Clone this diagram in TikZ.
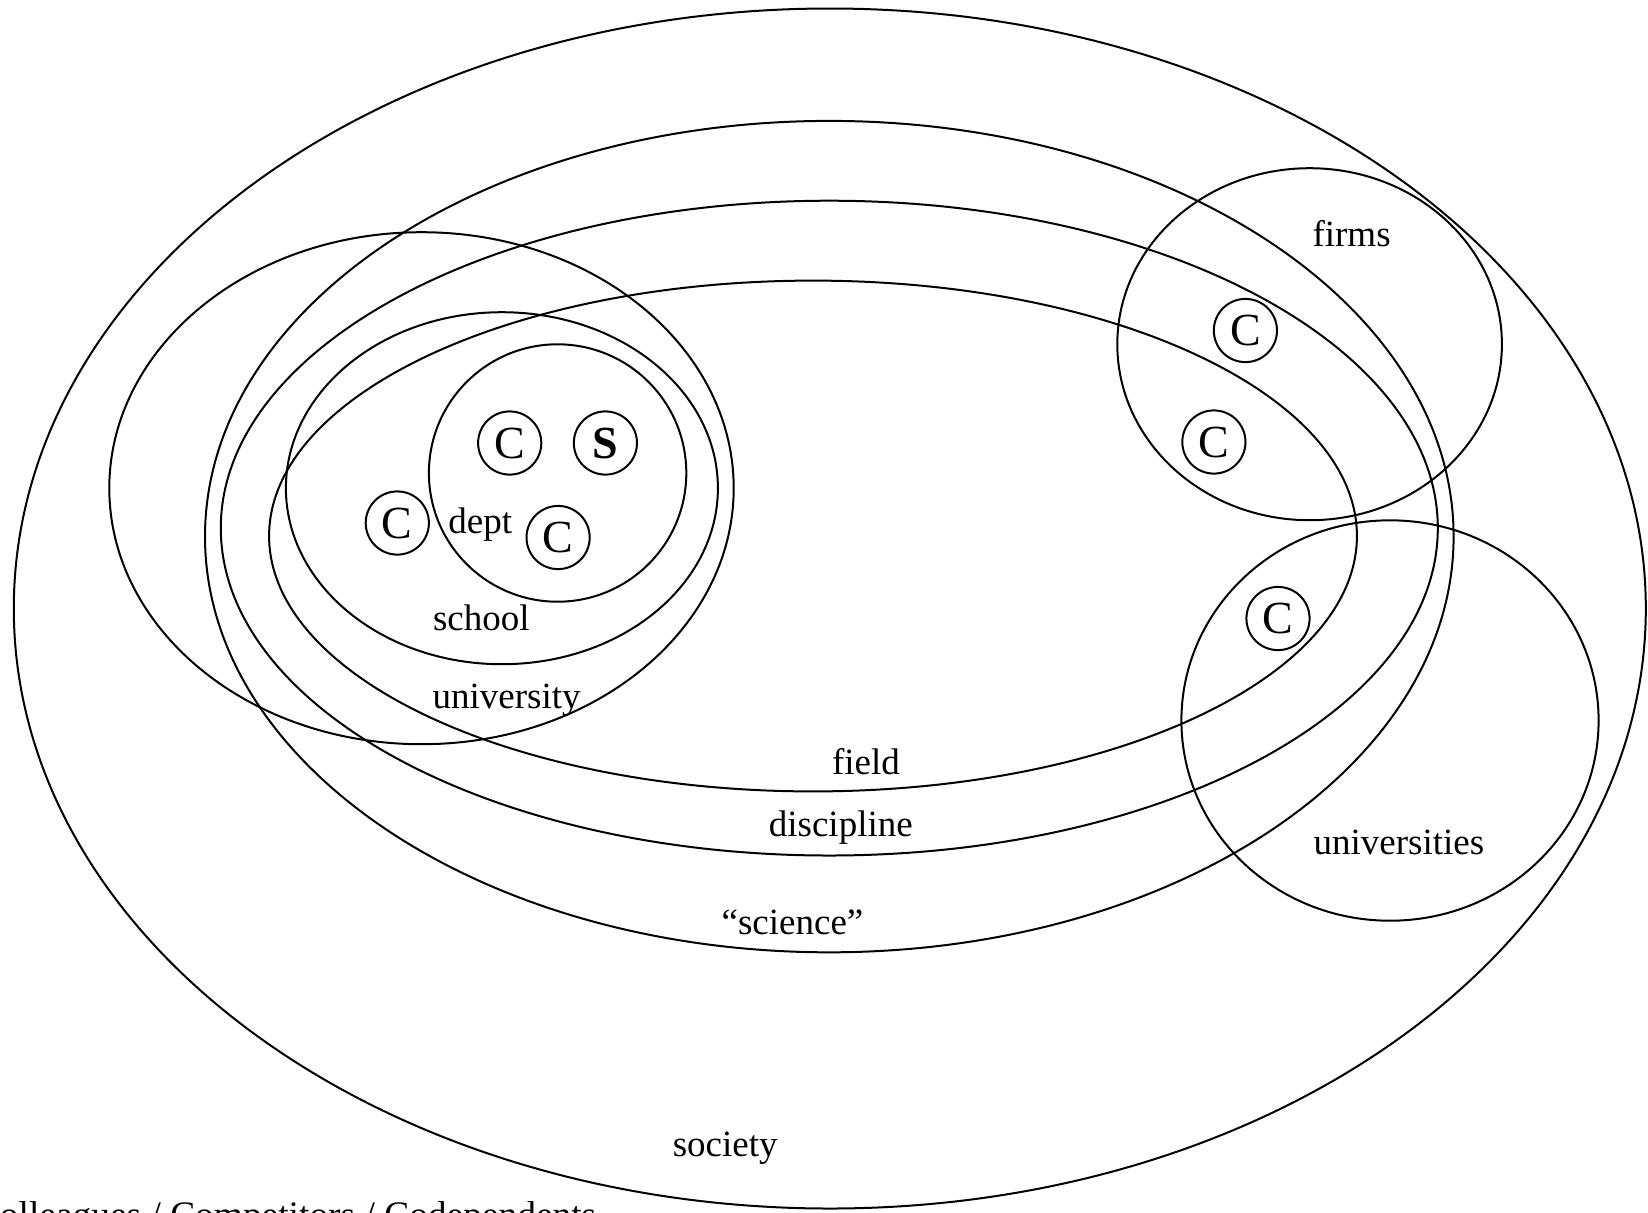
\documentclass[tikz,border=0pt]{standalone}
\usepackage{fontspec}
\setmainfont{Liberation Serif}
\begin{document}
\begin{tikzpicture}[x=0.5pt,y=-0.5pt,line width=1pt,
  lbl/.style={font=\fontsize{18.5}{22}\selectfont, inner sep=0pt},
  cc/.style={circle, draw, line width=1pt, minimum size=31.6pt, inner sep=0pt, font=\fontsize{23}{26}\selectfont}]
\useasboundingbox (0,0) rectangle (1648,1212);
\clip (0,0) rectangle (1648,1212);
% ellipses
\draw (829.8,608.5) ellipse [x radius=816, y radius=600];    % society
\draw (829.3,536.6) ellipse [x radius=624.3, y radius=415.7]; % science
\draw (829.3,528.1) ellipse [x radius=608.5, y radius=327.4]; % discipline
\draw (813,536) ellipse [x radius=543.9, y radius=255.4];     % field
\draw (421.5,488.2) ellipse [x radius=312.2, y radius=256];   % university
\draw (501.9,488.2) ellipse [x radius=216, y radius=176];     % school
\draw (557.6,473) ellipse [x radius=128.7, y radius=128.7];   % dept
\draw (1309.6,344.2) ellipse [x radius=192.3, y radius=176];  % firms
\draw (1390,720.5) ellipse [x radius=208.6, y radius=200.2];  % universities
% small circles
\node[cc] (c1) at (509.7,443) {C};
\node[cc] (s1) at (605.4,443) {\textbf{S}};
\node[cc] (c2) at (397.3,523) {C};
\node[cc] (c3) at (558.1,537.5) {C};
\node[cc] (c4) at (1245.4,330.5) {C};
\node[cc] (c5) at (1213.9,442) {C};
\node[cc] (c6) at (1278,618.5) {C};
% labels
\node[lbl] (lfirms) at (1351.6,234) {firms};
\node[lbl] (ldept) at (480.3,524.5) {dept};
\node[lbl] (lschool) at (481.4,618) {school};
\node[lbl] (luniv) at (506.6,700.5) {university};
\node[lbl] (lfield) at (866,761.5) {field};
\node[lbl] (ldisc) at (840.8,828) {discipline};
\node[lbl] (lsci) at (792.5,922.5) {``science''};
\node[lbl] (lunivs) at (1398.9,842.5) {universities};
\node[lbl] (lsoc) at (725.2,1148.5) {society};
\node[lbl, anchor=base west, font=\fontsize{18.7}{22}\selectfont] (lcol) at (-26,1227) {Colleagues / Competitors / Codependents};
\end{tikzpicture}
\end{document}
